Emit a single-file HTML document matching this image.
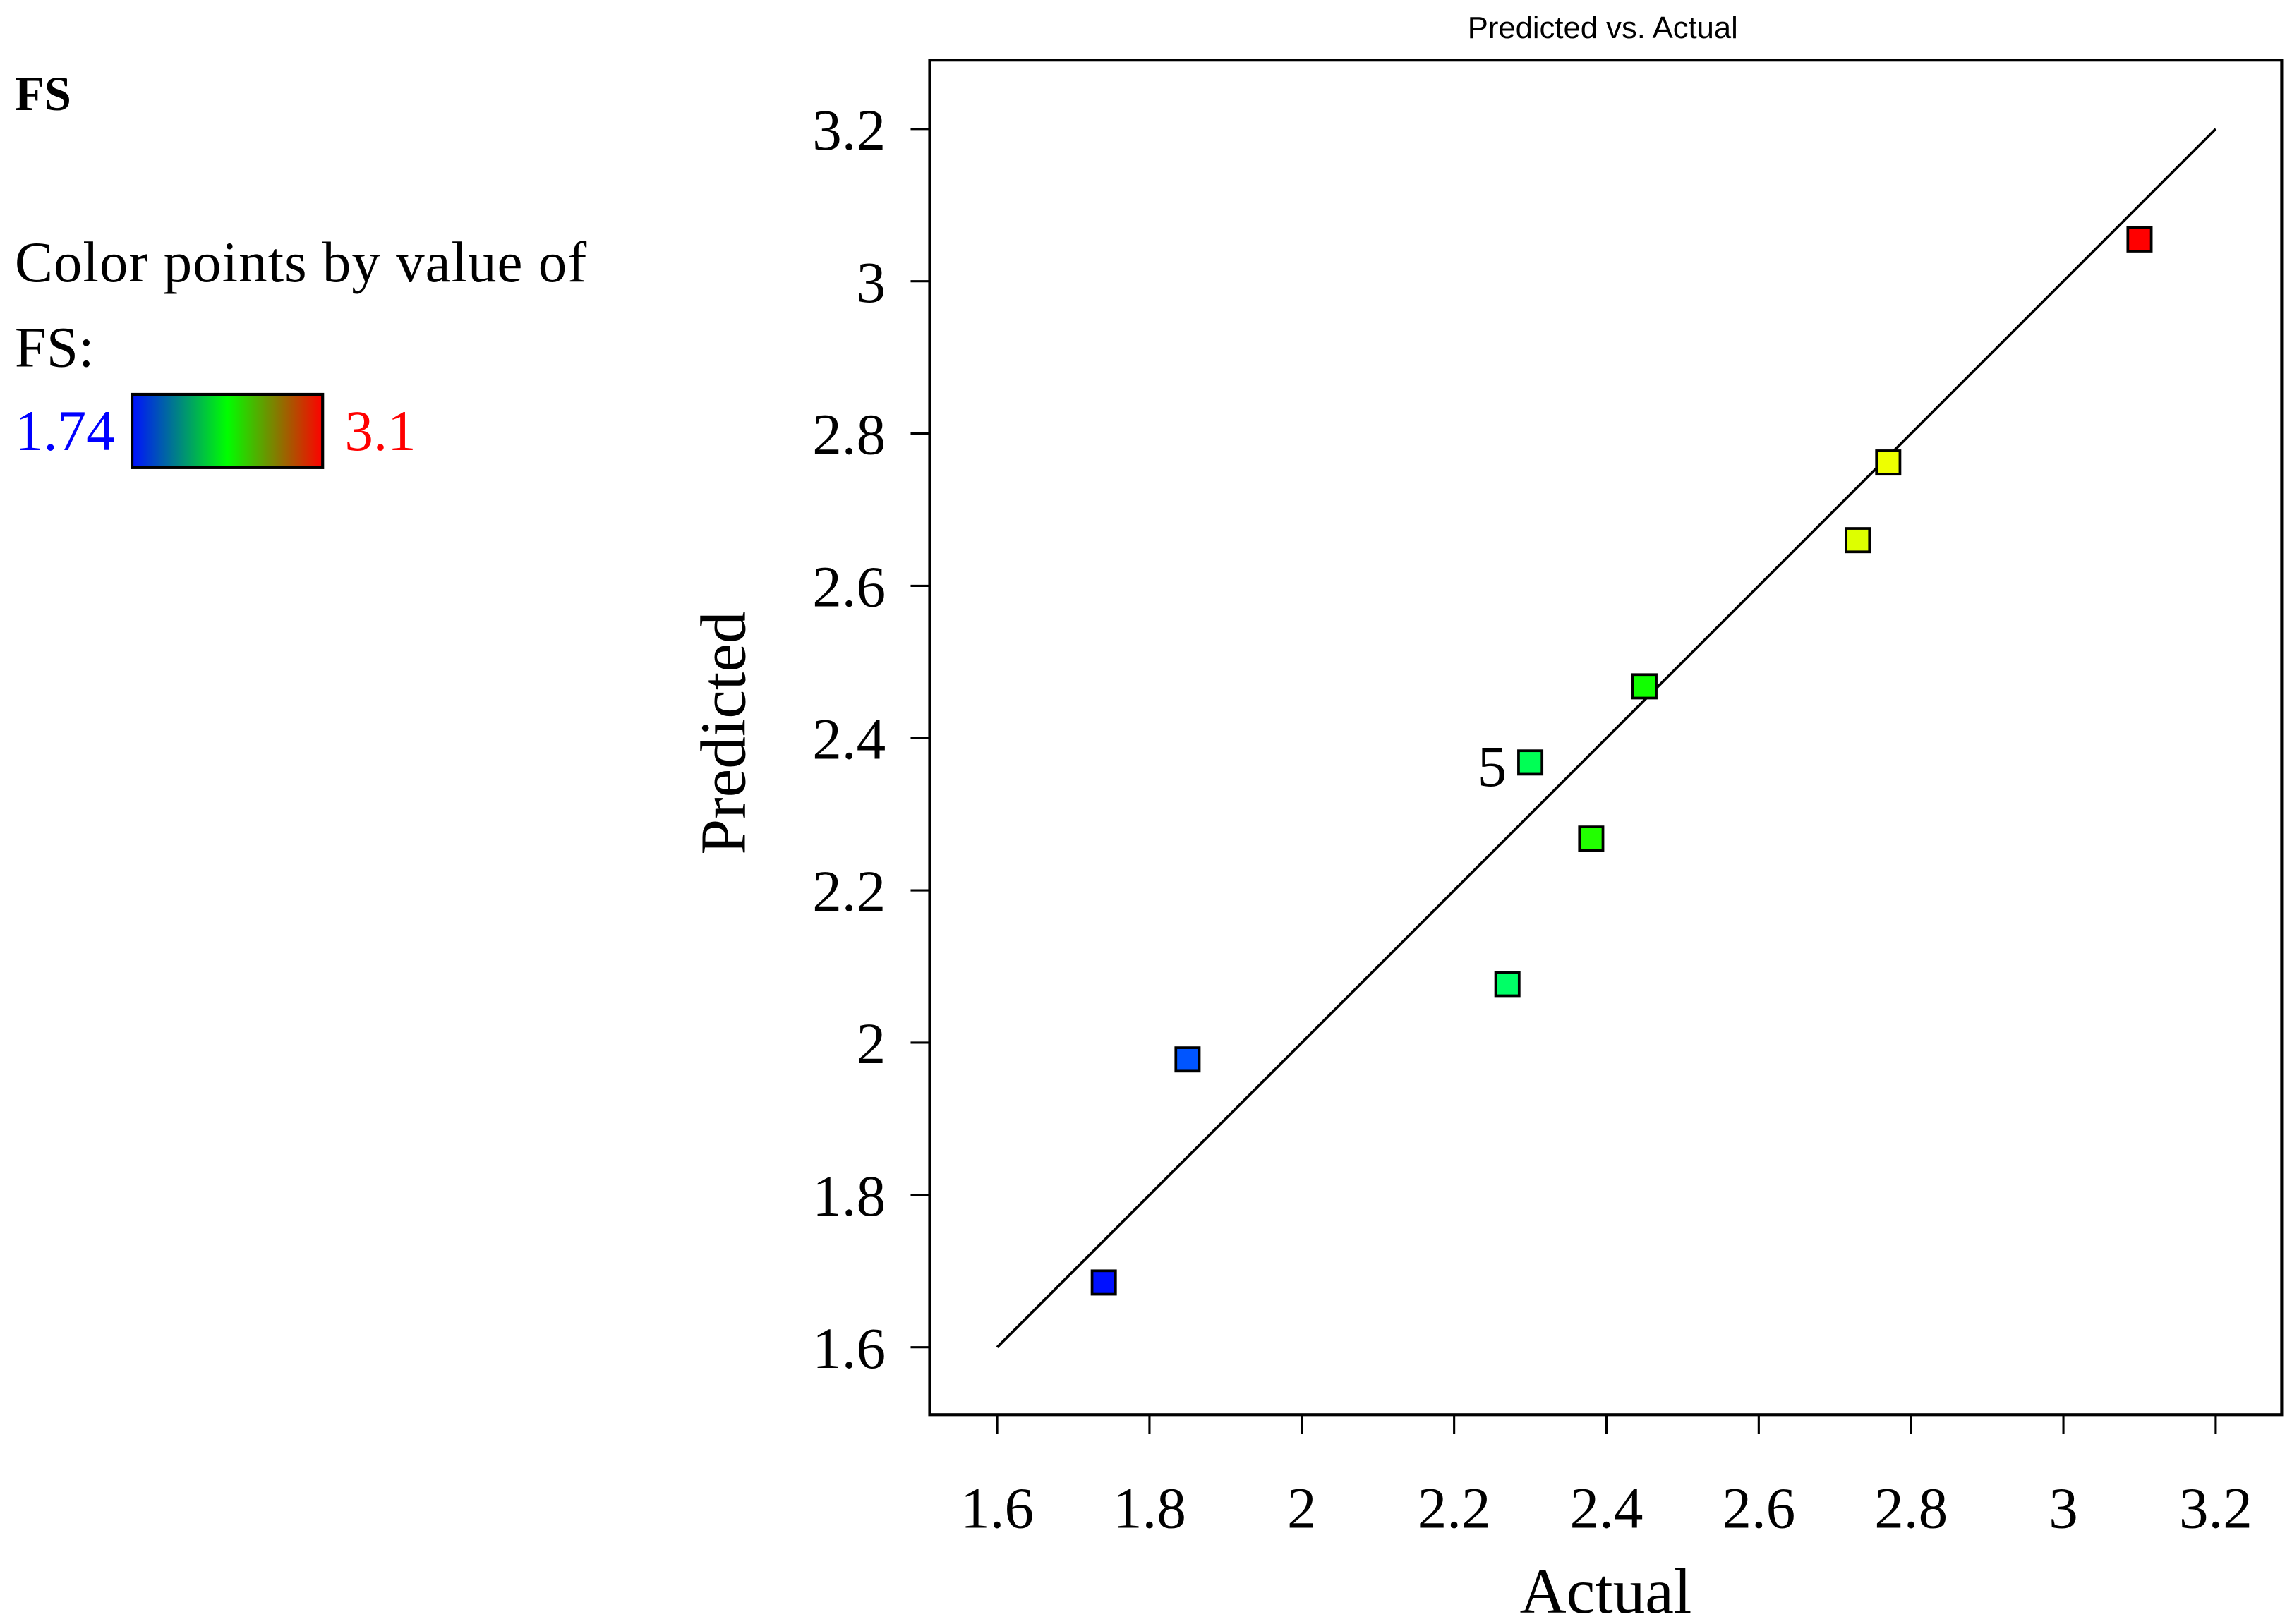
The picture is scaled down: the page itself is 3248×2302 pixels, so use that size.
<!DOCTYPE html>
<html><head><meta charset="utf-8"><style>html,body{margin:0;padding:0;background:#fff}svg{display:block}</style></head>
<body>
<svg id="chart" width="3248" height="2302" viewBox="0 0 1563 1107.8" xmlns="http://www.w3.org/2000/svg">
<defs><linearGradient id="grad" x1="0" x2="1" y1="0" y2="0"><stop offset="0" stop-color="#0010ff"/><stop offset="0.5" stop-color="#00ff00"/><stop offset="1" stop-color="#ff0000"/></linearGradient></defs>
<text x="10" y="75" font-family="Liberation Serif, serif" font-weight="bold" font-size="33">FS</text>
<text x="10" y="192" font-family="Liberation Serif, serif" font-size="39" textLength="390">Color points by value of</text>
<text x="10" y="250" font-family="Liberation Serif, serif" font-size="39">FS:</text>
<text x="10" y="307" font-family="Liberation Serif, serif" font-size="39" fill="#0000ff">1.74</text>
<rect x="90" y="269" width="130" height="50" fill="url(#grad)" stroke="#000" stroke-width="2"/>
<text x="235" y="307" font-family="Liberation Serif, serif" font-size="39" fill="#ff0000">3.1</text>
<text x="1093" y="26" text-anchor="middle" font-family="Liberation Sans, sans-serif" font-size="21">Predicted vs. Actual</text>
<rect x="634" y="41" width="922" height="924" fill="none" stroke="#000" stroke-width="2"/>
<g id="xticks"></g><g id="yticks"></g>
<text x="1095" y="1100" text-anchor="middle" font-family="Liberation Serif, serif" font-size="44">Actual</text>
<text transform="translate(508,500) rotate(-90)" text-anchor="middle" font-family="Liberation Serif, serif" font-size="44">Predicted</text>
<g id="marks"></g>
</svg>
<script>
const xTicks=[1.6,1.8,2,2.2,2.4,2.6,2.8,3,3.2];
const yTicks=[1.6,1.8,2,2.2,2.4,2.6,2.8,3,3.2];
const actual=[1.74,1.85,2.27,2.30,2.38,2.45,2.73,2.77,3.10];
const predicted=[1.685,1.978,2.077,2.368,2.268,2.468,2.66,2.762,3.055];
const pointColors=["#0010ff","#0055ff","#00ff66","#00ff55","#22ff00","#11ff00","#ddff00","#eeff00","#ff0000"];
const pointLabels=["","","","5","","","","",""];
const fitLine=[1.6,3.2];
const NS="http://www.w3.org/2000/svg";
function sx(v){return 680+(v-1.6)*(1511-680)/1.6;}
function sy(v){return 919-(v-1.6)*(919-88)/1.6;}
function mk(t,a){const e=document.createElementNS(NS,t);for(const k in a)e.setAttribute(k,a[k]);return e;}
const xg=document.getElementById('xticks'),yg=document.getElementById('yticks'),mg=document.getElementById('marks');
xTicks.forEach(v=>{
 const l=mk('line',{x1:sx(v),x2:sx(v),y1:965,y2:978,stroke:'#000','stroke-width':1.5});
 
 
 xg.appendChild(l);
 const t=mk('text',{x:sx(v),y:1042,'text-anchor':'middle','font-family':'Liberation Serif, serif','font-size':40});
 
 
 t.textContent=String(v);xg.appendChild(t);
});
yTicks.forEach(v=>{
 const l=mk('line',{x1:621,x2:634,y1:sy(v),y2:sy(v),stroke:'#000','stroke-width':1.5});
 
 
 yg.appendChild(l);
 const t=mk('text',{x:604,y:sy(v)+14,'text-anchor':'end','font-family':'Liberation Serif, serif','font-size':40});
 
 
 t.textContent=String(v);yg.appendChild(t);
});
const fl=mk('line',{x1:sx(fitLine[0]),y1:sy(fitLine[0]),x2:sx(fitLine[1]),y2:sy(fitLine[1]),stroke:'#000','stroke-width':1.8});


mg.appendChild(fl);
actual.forEach((a,i)=>{
 const r=mk('rect',{x:sx(a)-8,y:sy(predicted[i])-8,width:16,height:16,fill:pointColors[i],stroke:'#000','stroke-width':1.8});
 
 
 mg.appendChild(r);
 if(pointLabels[i]){
  const t=mk('text',{x:sx(a)-16,y:sy(predicted[i])+16,'text-anchor':'end','font-family':'Liberation Serif, serif','font-size':40});
  
  
  t.textContent=pointLabels[i];mg.appendChild(t);
 }
});
</script>
</body></html>
